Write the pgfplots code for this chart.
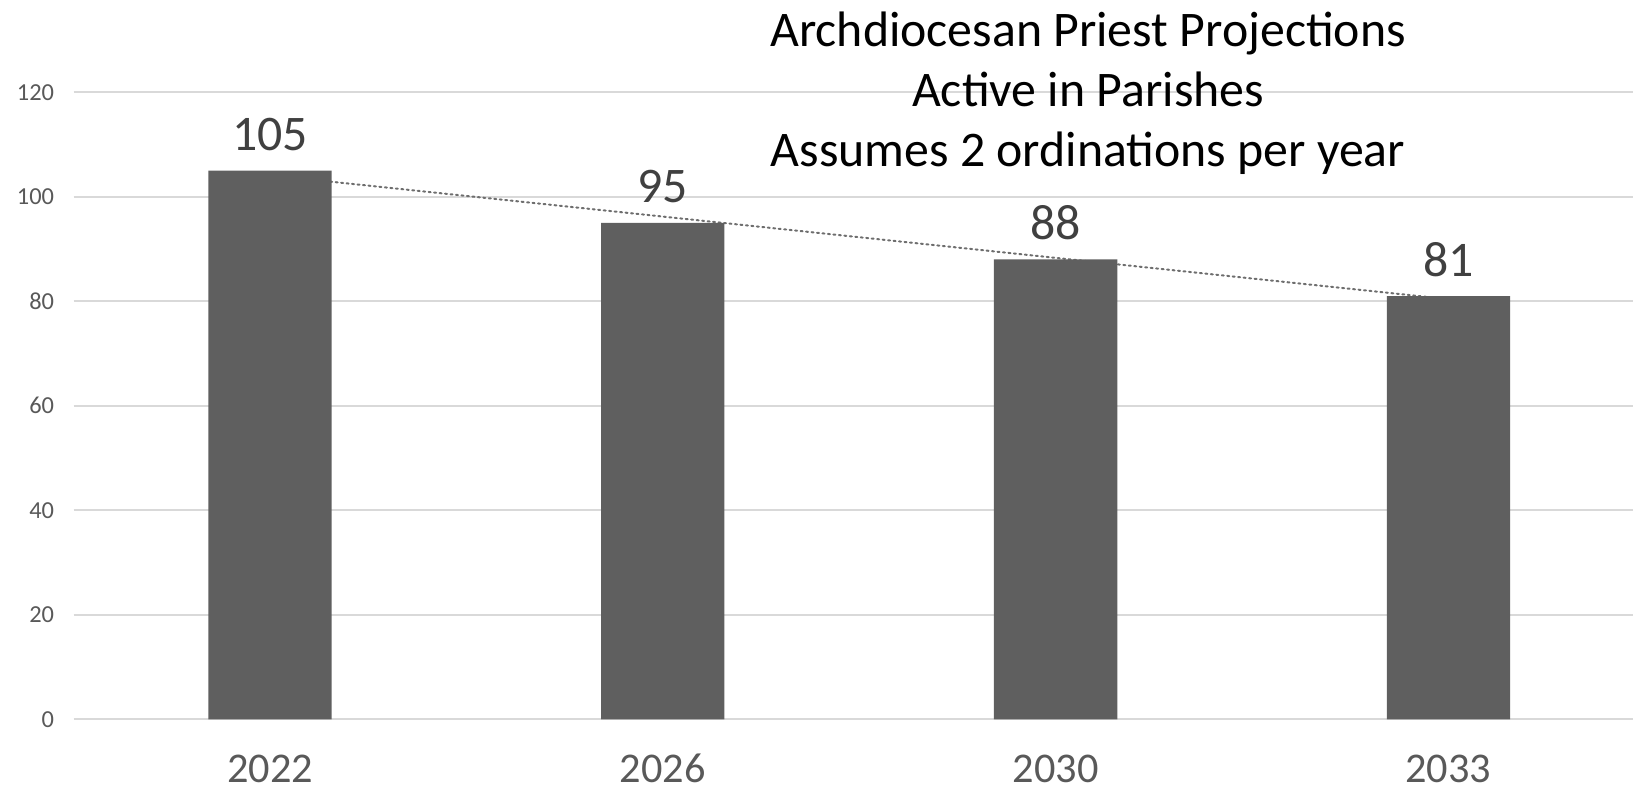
\documentclass[border=0pt]{standalone}
\usepackage{pgfplots}
\pgfplotsset{compat=1.18}
\usepackage{fontspec}
\setmainfont{Carlito}
\definecolor{barc}{RGB}{95,95,95}
\definecolor{gridc}{RGB}{217,217,217}
\definecolor{tickc}{RGB}{89,89,89}
\definecolor{labelc}{RGB}{64,64,64}
\definecolor{trendc}{RGB}{110,110,110}
\begin{document}
\begin{tikzpicture}
\begin{axis}[
  at={(0,0)}, anchor=south west,
  scale only axis, width=1559.4bp, height=627.1bp,
  xmin=0.5, xmax=4.47, ymin=0, ymax=120,
  ytick={0,20,...,120},
  xtick={1,2,3,4}, xticklabels={2022,2026,2030,2033},
  axis line style={draw=none},
  major tick length=0pt,
  ymajorgrids, grid style={draw=gridc, line width=1.8bp},
  /pgf/number format/assume math mode=true,
  yticklabel style={font=\fontsize{24.5}{28}\selectfont, text=tickc, anchor=east, xshift=-16bp},
  xticklabel style={font=\fontsize{42.5}{50}\selectfont, text=tickc, anchor=base, yshift=-63bp, text depth=0pt, inner sep=0pt},
  clip=false,
]
\addplot[trendc, line width=2bp, dash pattern=on 2bp off 3.5bp, line cap=round, sharp plot]
  coordinates {(1,104.1) (4,80.4)};
\addplot[ybar, bar width=123.3bp, fill=barc, draw=none,
  nodes near coords={\pgfmathprintnumber[assume math mode=true]{\pgfplotspointmeta}},
  every node near coord/.append style={font=\fontsize{50}{58}\selectfont, text=labelc, anchor=base, yshift=20bp}]
  coordinates {(1,105) (2,95) (3,88) (4,81)};
\end{axis}
\node[anchor=base, font=\fontsize{50}{60}\selectfont] at (1014.4bp,672.3bp) {Archdiocesan Priest Projections};
\node[anchor=base, font=\fontsize{50}{60}\selectfont] at (1014.4bp,612.7bp) {Active in Parishes};
\node[anchor=base, font=\fontsize{50}{60}\selectfont] at (1014.4bp,552.7bp) {Assumes 2 ordinations per year};
\pgfresetboundingbox
\path[use as bounding box] (-73.6bp,-69.7bp) rectangle (1559.4bp,719.3bp);
\end{tikzpicture}
\end{document}
